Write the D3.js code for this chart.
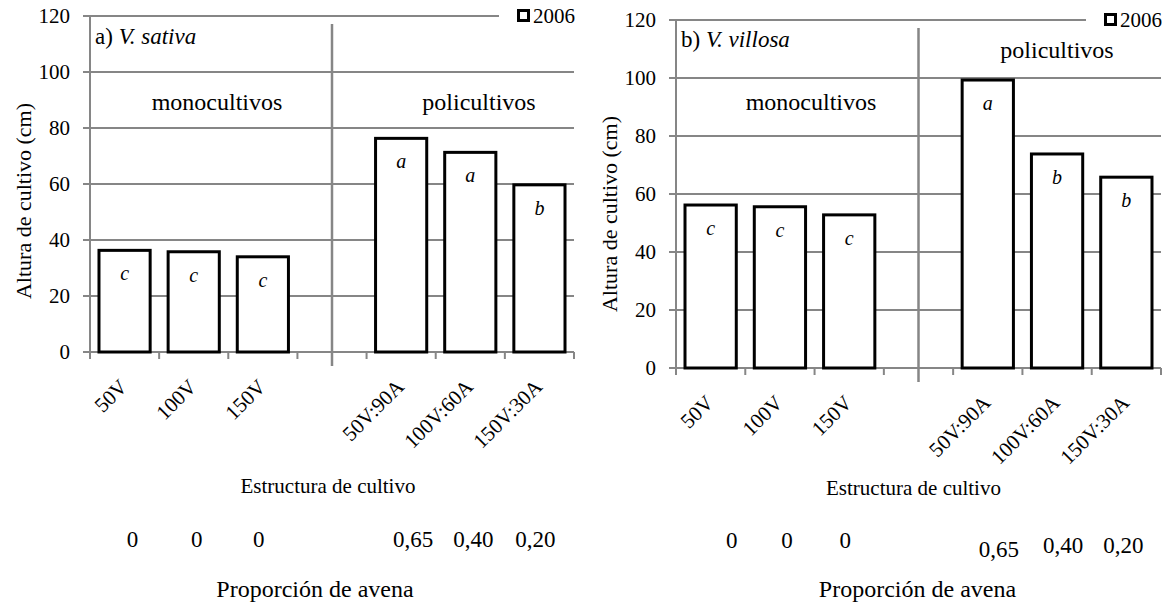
<!DOCTYPE html>
<html>
<head>
<meta charset="utf-8">
<script src="https://cdn.jsdelivr.net/npm/d3@7"></script>
<style>
  body { margin: 0; background: #fff; }
</style>
</head>
<body>
<svg width="1173" height="607" font-family="'Liberation Serif', 'Times New Roman', Times, 'DejaVu Serif', serif"></svg>
<script>
// categories ("gap" is the empty slot between the two groups)
var categories = ["50V", "100V", "150V", "gap", "50V:90A", "100V:60A", "150V:30A"];
var sativaHeights = [36.3, 35.8, 34.0, null, 76.3, 71.3, 59.7];
var villosaHeights = [56.2, 55.6, 52.8, null, 99.3, 73.8, 65.8];
var sativaLetters = ["c", "c", "c", null, "a", "a", "b"];
var villosaLetters = ["c", "c", "c", null, "a", "b", "b"];
var oatProportion = ["0", "0", "0", null, "0,65", "0,40", "0,20"];
var yTicks = [0, 20, 40, 60, 80, 100, 120];
var legendLabel = "2006";

var grid = "#868686";
var svg = d3.select("svg");

var panels = [
  { letter: "a) ", species: "V. sativa", values: sativaHeights, letters: sativaLetters,
    left: 90, right: 574, top: 16, bottom: 352,
    titleY: 28, mono: [127, 94], poli: [-95, 94], yTitle: [-67, 185],
    xTitle: [-4, 493], propTitle: [-17, 597],
    propY: [547, 547, 547, 0, 547, 547, 547], propDx: [5, 0, -7, 0, 9, 0, -7] },
  { letter: "b) ", species: "V. villosa", values: villosaHeights, letters: villosaLetters,
    left: 676, right: 1161, top: 20, bottom: 368,
    titleY: 27, mono: [135, 90], poli: [-104, 38], yTitle: [-67, 194],
    xTitle: [-5, 495], propTitle: [-1, 597],
    propY: [548, 548, 548, 0, 557, 553, 553], propDx: [18, 4, -7, 0, 8, 3, -6] }
];

panels.forEach(function(p) {
  var x = d3.scaleBand().domain(categories).range([p.left, p.right]).paddingInner(0).paddingOuter(0);
  var y = d3.scaleLinear().domain([0, 120]).range([p.bottom, p.top]);
  var bw = x.bandwidth();
  var barW = bw * 0.74;
  var g = svg.append("g");

  // gridlines
  g.selectAll(".grid").data(yTicks.filter(function(d) { return d > 0; }))
    .enter().append("line")
    .attr("x1", p.left).attr("x2", p.right)
    .attr("y1", function(d) { return y(d); }).attr("y2", function(d) { return y(d); })
    .attr("stroke", grid).attr("stroke-width", 2);

  // y axis + ticks
  g.append("line").attr("x1", p.left).attr("x2", p.left).attr("y1", p.top).attr("y2", p.bottom)
    .attr("stroke", grid).attr("stroke-width", 2);
  g.selectAll(".ytick").data(yTicks).enter().append("line")
    .attr("x1", p.left - 7).attr("x2", p.left)
    .attr("y1", function(d) { return y(d); }).attr("y2", function(d) { return y(d); })
    .attr("stroke", grid).attr("stroke-width", 2);
  g.selectAll(".ylab").data(yTicks).enter().append("text")
    .attr("x", p.left - 20).attr("y", function(d) { return y(d); })
    .attr("dy", "0.35em").attr("text-anchor", "end").attr("font-size", "21px")
    .text(function(d) { return d; });

  // x axis + ticks between categories
  g.append("line").attr("x1", p.left - 7).attr("x2", p.right).attr("y1", p.bottom).attr("y2", p.bottom)
    .attr("stroke", grid).attr("stroke-width", 2);
  var bounds = categories.map(function(c) { return x(c); }).concat([p.right]);
  g.selectAll(".xtick").data(bounds).enter().append("line")
    .attr("x1", function(d) { return d; }).attr("x2", function(d) { return d; })
    .attr("y1", p.bottom).attr("y2", p.bottom + 7)
    .attr("stroke", grid).attr("stroke-width", 2);

  // divider between mono and poly crops
  var divX = x("gap") + bw / 2;
  g.append("line").attr("x1", divX).attr("x2", divX).attr("y1", p.top + 8).attr("y2", p.bottom + 14)
    .attr("stroke", grid).attr("stroke-width", 2.5);

  // bars
  var rows = categories.map(function(c, i) {
    return { cat: c, v: p.values[i], l: p.letters[i], prop: oatProportion[i], py: p.propY[i], dx: p.propDx[i] };
  }).filter(function(d) { return d.v != null; });

  g.selectAll(".bar").data(rows).enter().append("rect")
    .attr("x", function(d) { return x(d.cat) + (bw - barW) / 2; })
    .attr("y", function(d) { return y(d.v); })
    .attr("width", barW)
    .attr("height", function(d) { return p.bottom - y(d.v); })
    .attr("fill", "#fff").attr("stroke", "#000").attr("stroke-width", 3);

  g.selectAll(".sig").data(rows).enter().append("text")
    .attr("x", function(d) { return x(d.cat) + bw / 2; })
    .attr("y", function(d) { return y(d.v) + 30; })
    .attr("text-anchor", "middle").attr("font-size", "20px").attr("font-style", "italic")
    .text(function(d) { return d.l; });

  // rotated category labels
  g.selectAll(".xlab").data(rows).enter().append("text")
    .attr("transform", function(d) {
      return "translate(" + (x(d.cat) + bw / 2 + 4) + "," + (p.bottom + 36) + ") rotate(-45)";
    })
    .attr("text-anchor", "end").attr("font-size", "21px")
    .text(function(d) { return d.cat; });

  // oat proportion row
  g.selectAll(".prop").data(rows).enter().append("text")
    .attr("x", function(d) { return x(d.cat) + bw / 2 + 3 + d.dx; })
    .attr("y", function(d) { return d.py; })
    .attr("text-anchor", "middle").attr("font-size", "23px")
    .text(function(d) { return d.prop; });

  var mid = (p.left + p.right) / 2;

  // panel title
  var t = g.append("text").attr("x", p.left + 5).attr("y", p.top + p.titleY).attr("font-size", "23px");
  t.append("tspan").text(p.letter);
  t.append("tspan").attr("font-style", "italic").text(p.species);

  g.append("text").attr("x", p.left + p.mono[0]).attr("y", p.top + p.mono[1])
    .attr("text-anchor", "middle").attr("font-size", "24px").text("monocultivos");
  g.append("text").attr("x", p.right + p.poli[0]).attr("y", p.top + p.poli[1])
    .attr("text-anchor", "middle").attr("font-size", "24px").text("policultivos");

  // axis titles
  g.append("text")
    .attr("transform", "translate(" + (p.left + p.yTitle[0]) + "," + (p.top + p.yTitle[1]) + ") rotate(-90)")
    .attr("text-anchor", "middle").attr("dy", "0.35em").attr("font-size", "22px")
    .text("Altura de cultivo (cm)");
  g.append("text").attr("x", mid + p.xTitle[0]).attr("y", p.xTitle[1])
    .attr("text-anchor", "middle").attr("font-size", "21px").text("Estructura de cultivo");
  g.append("text").attr("x", mid + p.propTitle[0]).attr("y", p.propTitle[1])
    .attr("text-anchor", "middle").attr("font-size", "24px").text("Proporción de avena");

  // legend (covers the end of the top gridline)
  var lg = g.append("g").attr("transform", "translate(" + (p.right - 57) + "," + (p.top - 7) + ")");
  lg.append("rect").attr("x", -18).attr("y", -6).attr("width", 80).attr("height", 22).attr("fill", "#fff");
  lg.append("rect").attr("x", 1.5).attr("y", 1.5).attr("width", 10).attr("height", 10)
    .attr("fill", "#fff").attr("stroke", "#000").attr("stroke-width", 3);
  lg.append("text").attr("x", 16).attr("y", 14).attr("font-size", "21px").text(legendLabel);
});
</script>
</body>
</html>
